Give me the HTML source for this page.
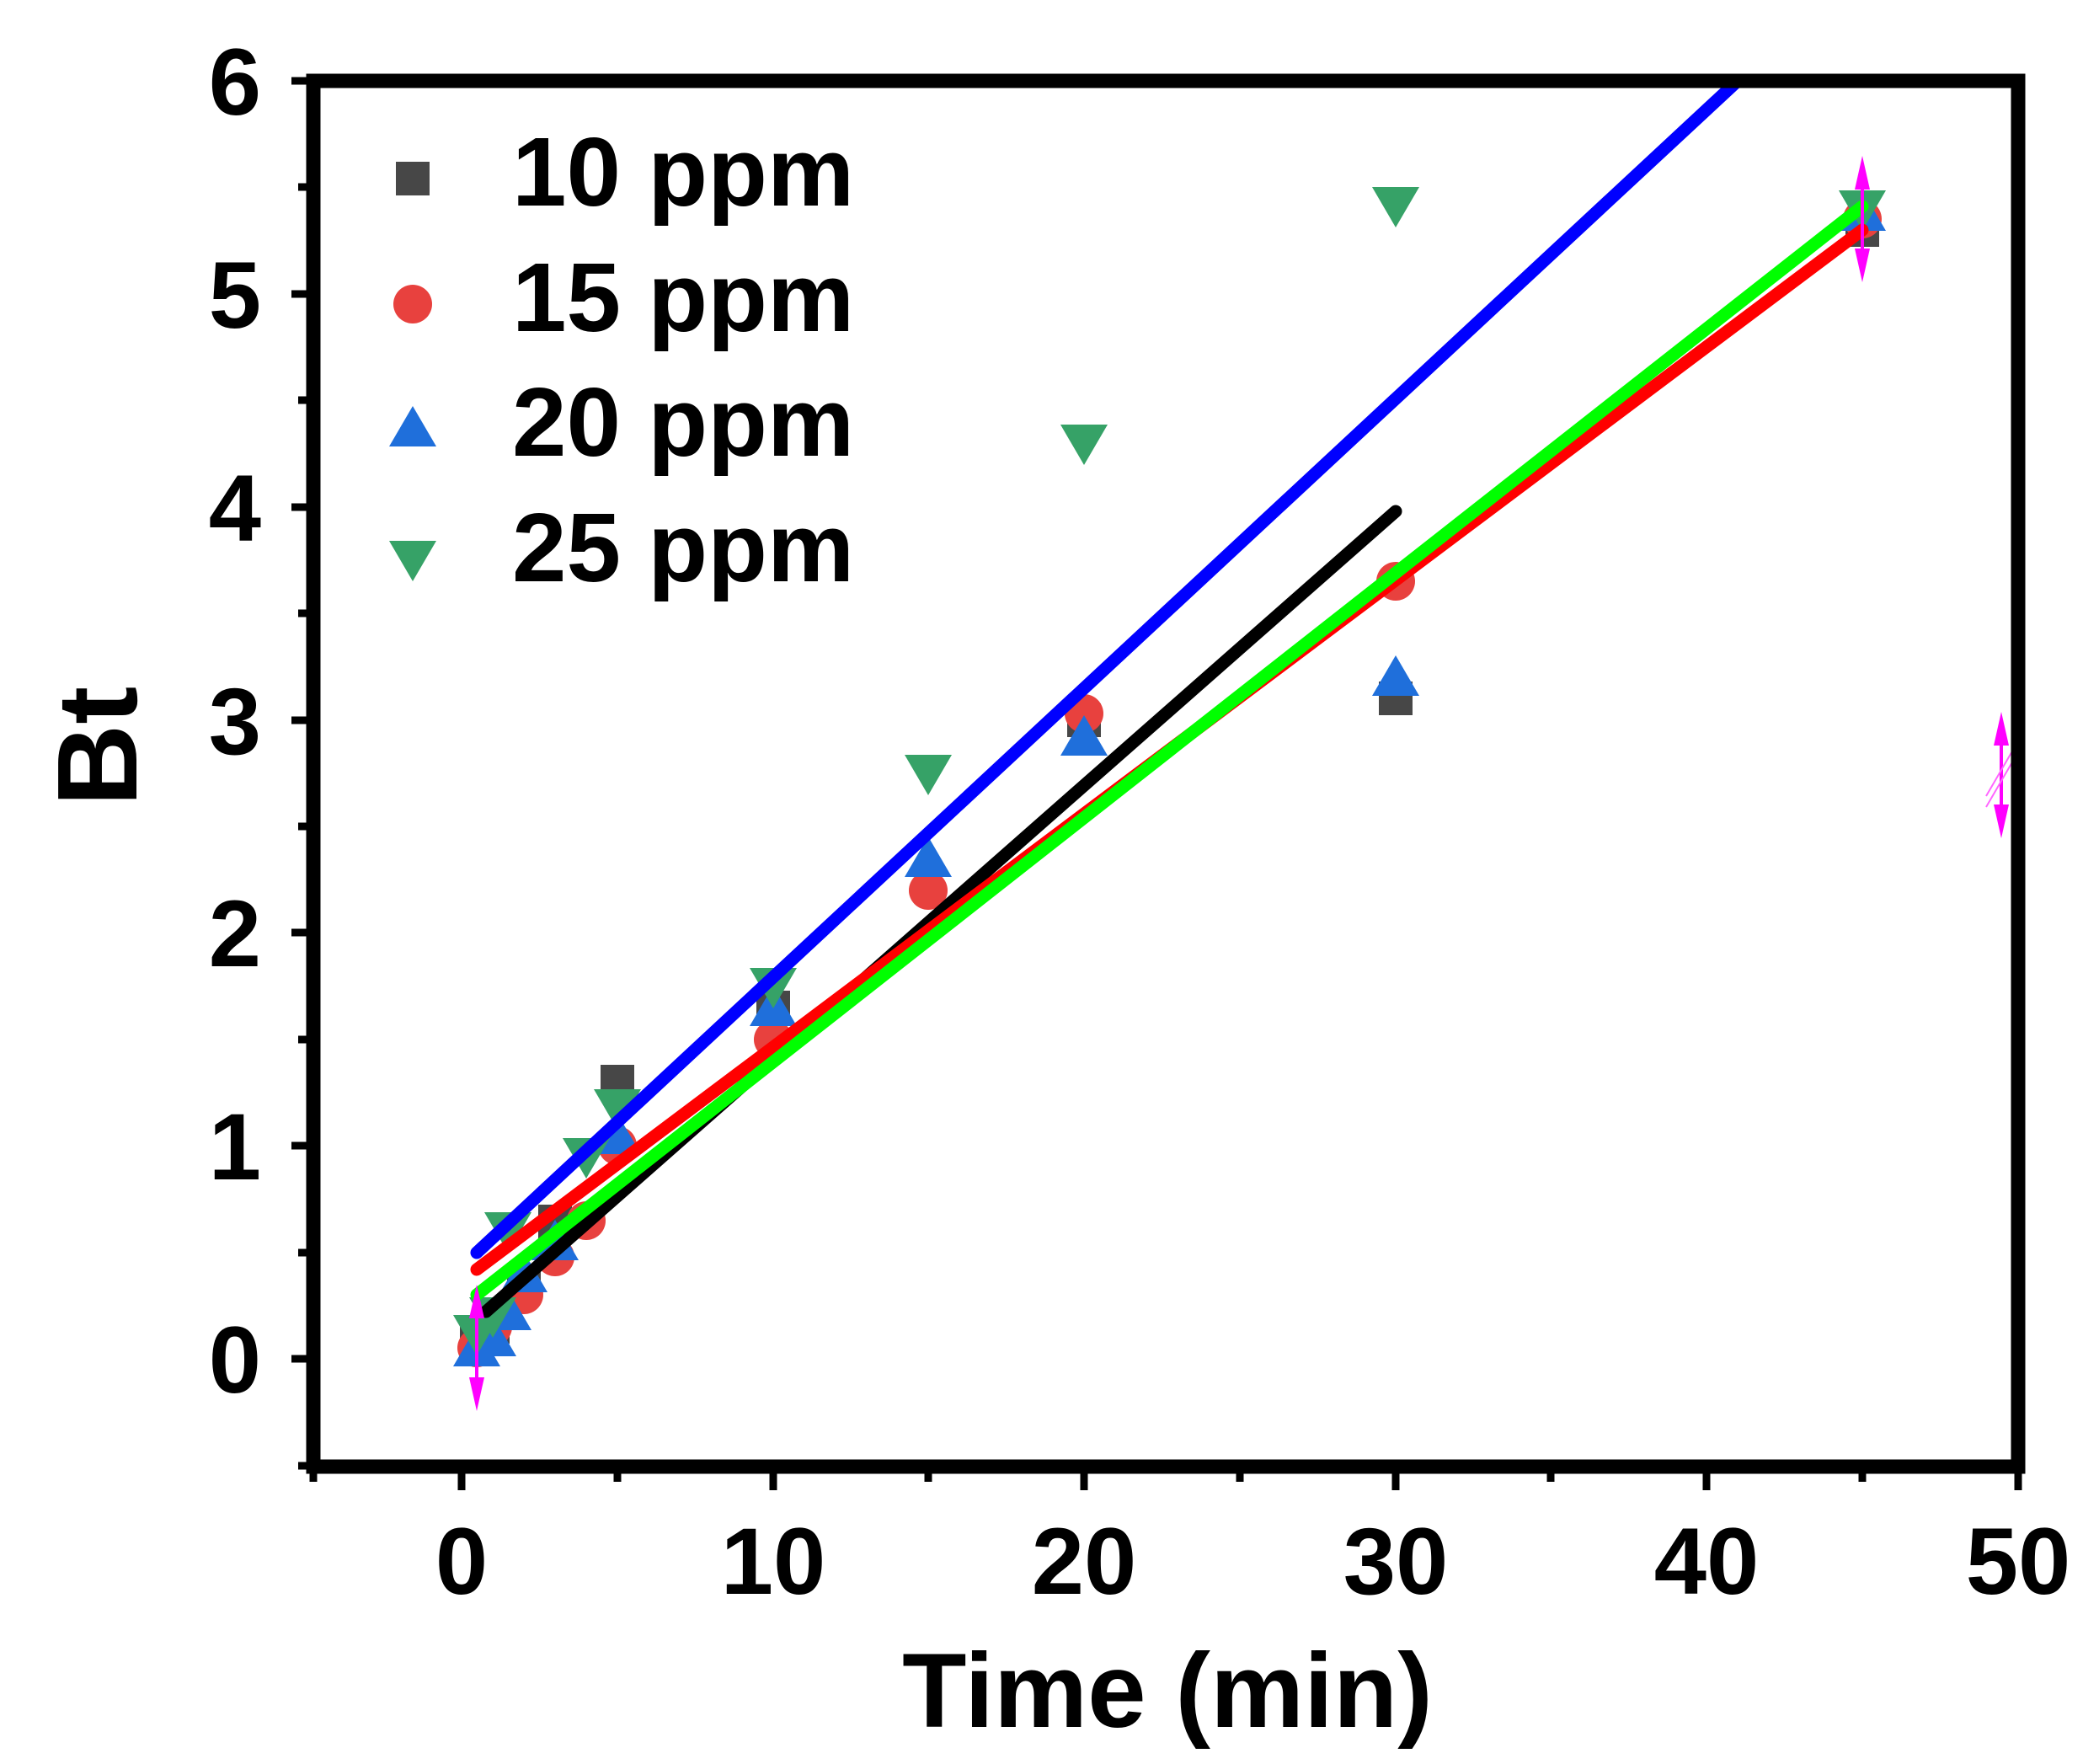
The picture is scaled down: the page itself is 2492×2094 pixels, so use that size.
<!DOCTYPE html>
<html><head><meta charset="utf-8"><style>
html,body{margin:0;padding:0;background:#fff}
svg{display:block}
text{font-family:"Liberation Sans",Arial,sans-serif;font-weight:bold;fill:#000}
</style></head><body>
<svg width="2492" height="2094" viewBox="0 0 2492 2094" xmlns="http://www.w3.org/2000/svg">
<defs>
<clipPath id="c"><rect x="372" y="96" width="2024" height="1645"/></clipPath>
<g id="sq"><rect x="-20" y="-20" width="40" height="40" fill="#474747"/></g>
<g id="ci"><circle r="23" fill="#e8413e"/></g>
<g id="tu"><polygon points="0,-26 28,22 -28,22" fill="#1f6fdb"/></g>
<g id="td"><polygon points="0,26 28,-22 -28,-22" fill="#36a267"/></g>
<g id="ar"><line x1="0" y1="-60" x2="0" y2="60" stroke="#ff00ff" stroke-width="4"/><polygon points="0,-75 -9,-35 9,-35" fill="#ff00ff"/><polygon points="0,75 -9,35 9,35" fill="#ff00ff"/></g>
</defs>
<g clip-path="url(#c)">
<use href="#sq" x="566" y="1588"/><use href="#sq" x="585" y="1575"/><use href="#sq" x="622" y="1527"/><use href="#sq" x="659" y="1450"/><use href="#sq" x="733" y="1284"/><use href="#sq" x="918" y="1196"/><use href="#sq" x="1287" y="855"/><use href="#sq" x="1657" y="829"/><use href="#sq" x="2211" y="273"/>
<use href="#ci" x="566" y="1600"/><use href="#ci" x="585" y="1575"/><use href="#ci" x="622" y="1537"/><use href="#ci" x="659" y="1492"/><use href="#ci" x="696" y="1449"/><use href="#ci" x="733" y="1360"/><use href="#ci" x="918" y="1234"/><use href="#ci" x="1102" y="1057"/><use href="#ci" x="1287" y="847"/><use href="#ci" x="1657" y="690"/><use href="#ci" x="2211" y="260"/>
<use href="#tu" x="566" y="1600"/><use href="#tu" x="585" y="1588"/><use href="#tu" x="603" y="1557"/><use href="#tu" x="622" y="1512"/><use href="#tu" x="659" y="1474"/><use href="#tu" x="733" y="1348"/><use href="#tu" x="918" y="1196"/><use href="#tu" x="1102" y="1019"/><use href="#tu" x="1287" y="875"/><use href="#tu" x="1657" y="804"/><use href="#tu" x="2211" y="252"/>
<use href="#td" x="566" y="1583"/><use href="#td" x="585" y="1562"/><use href="#td" x="603" y="1461"/><use href="#td" x="696" y="1373"/><use href="#td" x="733" y="1315"/><use href="#td" x="918" y="1171"/><use href="#td" x="1102" y="918"/><use href="#td" x="1287" y="526"/><use href="#td" x="1657" y="244"/><use href="#td" x="2211" y="248"/>
<line x1="566" y1="1487" x2="2063" y2="96" stroke="#0000ff" stroke-width="15" stroke-linecap="round"/>
<line x1="577" y1="1557" x2="1657" y2="607" stroke="#000" stroke-width="15" stroke-linecap="round"/>
<line x1="566" y1="1507" x2="2211" y2="273" stroke="#ff0000" stroke-width="15" stroke-linecap="round"/>
<line x1="566" y1="1537" x2="2211" y2="245" stroke="#00ff00" stroke-width="15" stroke-linecap="round"/>
<use href="#ar" x="566" y="1600"/>
<use href="#ar" x="2211" y="260"/>
<use href="#ar" x="2376" y="920"/>
<line x1="2358" y1="945" x2="2390" y2="890" stroke="#ff66ff" stroke-width="2"/>
<line x1="2358" y1="958" x2="2390" y2="903" stroke="#ff66ff" stroke-width="2"/>
</g>
<rect x="372" y="96" width="2024" height="1645" fill="none" stroke="#000" stroke-width="17"/>
<g stroke="#000" stroke-width="9">
<line x1="346" y1="1613" x2="372" y2="1613"/><line x1="346" y1="1360" x2="372" y2="1360"/><line x1="346" y1="1107" x2="372" y2="1107"/><line x1="346" y1="855" x2="372" y2="855"/><line x1="346" y1="602" x2="372" y2="602"/><line x1="346" y1="349" x2="372" y2="349"/><line x1="346" y1="96" x2="372" y2="96"/>
<line x1="354" y1="1740" x2="372" y2="1740"/><line x1="354" y1="1487" x2="372" y2="1487"/><line x1="354" y1="1234" x2="372" y2="1234"/><line x1="354" y1="981" x2="372" y2="981"/><line x1="354" y1="728" x2="372" y2="728"/><line x1="354" y1="475" x2="372" y2="475"/><line x1="354" y1="222" x2="372" y2="222"/>
<line x1="548" y1="1741" x2="548" y2="1769"/><line x1="918" y1="1741" x2="918" y2="1769"/><line x1="1287" y1="1741" x2="1287" y2="1769"/><line x1="1657" y1="1741" x2="1657" y2="1769"/><line x1="2026" y1="1741" x2="2026" y2="1769"/><line x1="2396" y1="1741" x2="2396" y2="1769"/>
<line x1="372" y1="1741" x2="372" y2="1759"/><line x1="733" y1="1741" x2="733" y2="1759"/><line x1="1102" y1="1741" x2="1102" y2="1759"/><line x1="1472" y1="1741" x2="1472" y2="1759"/><line x1="1841" y1="1741" x2="1841" y2="1759"/><line x1="2211" y1="1741" x2="2211" y2="1759"/>
</g>
<g font-size="112" text-anchor="end">
<text x="310" y="1653">0</text><text x="310" y="1400">1</text><text x="310" y="1147">2</text><text x="310" y="895">3</text><text x="310" y="642">4</text><text x="310" y="389">5</text><text x="310" y="136">6</text>
</g>
<g font-size="112" text-anchor="middle">
<text x="548" y="1892">0</text><text x="918" y="1892">10</text><text x="1287" y="1892">20</text><text x="1657" y="1892">30</text><text x="2026" y="1892">40</text><text x="2396" y="1892">50</text>
</g>
<text x="1386" y="2050" font-size="125" text-anchor="middle">Time (min)</text>
<text transform="translate(162,886) rotate(-90)" font-size="135" text-anchor="middle">Bt</text>
<use href="#sq" x="490" y="212"/><use href="#ci" x="490" y="361"/><use href="#tu" x="490" y="508"/><use href="#td" x="490" y="664"/>
<g font-size="116">
<text x="608" y="244">10 ppm</text><text x="608" y="393">15 ppm</text><text x="608" y="541">20 ppm</text><text x="608" y="690">25 ppm</text>
</g>
</svg>
</body></html>
